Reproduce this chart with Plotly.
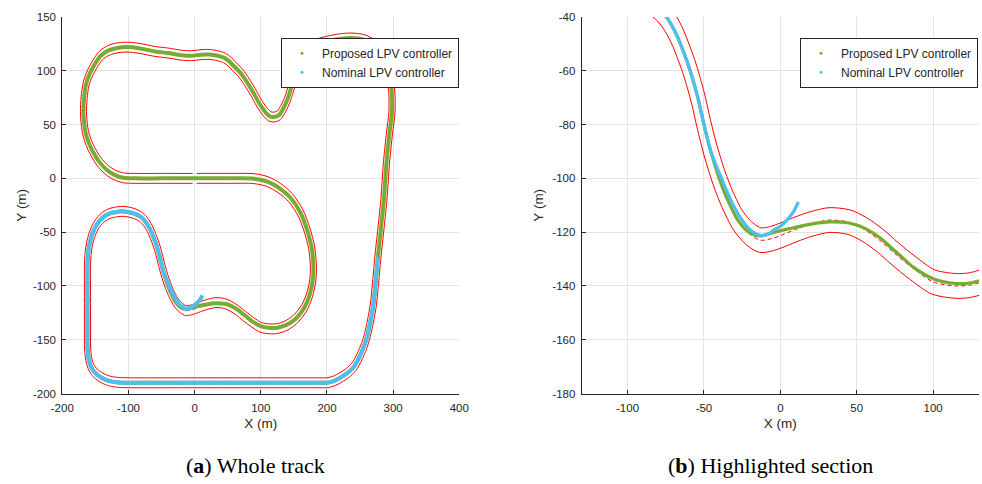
import numpy as np
import plotly.graph_objects as go

# ---------------- data ----------------
# reference centre line of the track (m), in driving order, starting just west of the start line
NW_X = [-3, -50, -90, -108, -122, -133, -145, -153, -160, -165, -167.5, -168, -167, -164, -158, -150, -142, -130, -115, -102]
NW_Y = [0, 0, 0, 0.5, 3.5, 8, 16, 24, 33, 43, 55, 62, 75, 88, 98, 107, 114, 119, 121.5, 122]

NORTH_X = [-85, -60, -40, -20, -5, 10, 22, 35, 45, 53, 59, 64, 70, 79, 88, 97, 107, 114, 120, 127, 134, 140, 145, 150, 155]
NORTH_Y = [121, 118, 116.5, 114.5, 114, 115, 115.2, 114, 112, 108.5, 104.5, 101.5, 97.5, 89.5, 80.5, 70.5, 61.5, 57.5, 57,
           58.5, 65, 73, 82.5, 91, 100]

EAST_X = [161, 168, 177, 188, 200, 220, 236, 256, 270, 282, 291, 295.5, 298.3, 298, 294.5, 290, 286, 281, 277, 273, 270,
          266, 261, 256, 249, 241, 231, 221, 210, 200]
EAST_Y = [110, 117.5, 122.5, 125.5, 127.5, 129.8, 130.5, 129, 124.5, 116, 104, 92, 77, 60, 42, 15, -20, -50, -73, -100, -118,
          -132, -146, -156, -166, -175, -181, -185, -188.5, -190]

SOUTH_X = [185, 100, 0, -100, -115, -128, -140, -150, -156, -160, -161.8, -162, -162, -162, -161, -158.5, -154, -147.5, -139,
           -129, -118, -107, -94, -82.5]
SOUTH_Y = [-190, -190, -190, -190, -189.7, -188.5, -185.5, -181, -176, -168, -158, -145, -100, -82, -70, -60, -50.5, -42.5,
           -36.5, -32.8, -31.2, -30.7, -32.2, -35.3]

HIGHLIGHT_X = [-74.5, -68, -63, -59, -54, -50, -45.5, -40, -34.5, -27.5, -20, -13, -5, 0, 10, 20, 32, 45, 55, 65, 75, 87,
               100, 115, 125, 138]
HIGHLIGHT_Y = [-40, -46.5, -53.5, -60, -70, -80, -90, -100, -108, -115.8, -120.7, -123, -122.3, -121.3, -119, -117, -115.5,
               -116.3, -119, -123, -128, -133.5, -138.5, -140, -139.6, -137]

INNER_X = [152, 165, 174, 178.5, 179.5, 177, 170, 160, 145, 128, 110, 90, 50, 3]
INNER_Y = [-131, -121, -108, -95, -82, -65, -48, -32, -18, -9, -3, -0.3, 0, 0]

TRACK_HALF_WIDTH = 4.6

# proposed LPV controller: deviates from the centre line in the highlighted section
PROP_SEC_X = [-27.5, -20, -13, -7.5, 0, 6, 20, 32, 45, 55, 65, 72, 80, 87, 100, 115, 125, 138]
PROP_SEC_Y = [-115.8, -120.3, -121.4, -120.6, -119.5, -118.7, -117, -116.2, -116.6, -118.5, -122, -125.5,
              -129.5, -133, -137.3, -139.1, -138.8, -136.5]

# nominal LPV controller: recorded from the east side, leaves the track after the hairpin
NOM_SEC_X = [-38.5, -32.5, -26, -19.5, -13, -8, -4.6, 0, 4.2, 8.5, 11.8]
NOM_SEC_Y = [-100, -108, -114.8, -119.3, -121.2, -120.8, -119.3, -117.8, -115.6, -112.5, -108.8]

X_TICKS_A = [-200, -100, 0, 100, 200, 300, 400]
Y_TICKS_A = [-200, -150, -100, -50, 0, 50, 100, 150]
X_TICKS_B = [-100, -50, 0, 50, 100]
Y_TICKS_B = [-180, -160, -140, -120, -100, -80, -60, -40]

# ---------------- derived series ----------------
CENTER_X = NW_X + NORTH_X + EAST_X + SOUTH_X + HIGHLIGHT_X + INNER_X
CENTER_Y = NW_Y + NORTH_Y + EAST_Y + SOUTH_Y + HIGHLIGHT_Y + INNER_Y


def lab(v):
    return [str(t) for t in v]


pts = list(zip(CENTER_X, CENTER_Y))


def idx(p):
    return pts.index(p)


PROP_X = CENTER_X[:idx((-27.5, -115.8))] + PROP_SEC_X + CENTER_X[idx((152, -131)):] + [CENTER_X[0]]
PROP_Y = CENTER_Y[:idx((-27.5, -115.8))] + PROP_SEC_Y + CENTER_Y[idx((152, -131)):] + [CENTER_Y[0]]
NOM_X = CENTER_X[idx((277, -73)):idx((-45.5, -90)) + 1] + NOM_SEC_X
NOM_Y = CENTER_Y[idx((277, -73)):idx((-45.5, -90)) + 1] + NOM_SEC_Y

# track edges: offset of the centre line along its normal
cx = np.array(CENTER_X, float)
cy = np.array(CENTER_Y, float)
tx = np.gradient(cx)
ty = np.gradient(cy)
nrm = np.hypot(tx, ty)
nx, ny = -ty / nrm, tx / nrm
LEFT_X, LEFT_Y = cx + TRACK_HALF_WIDTH * nx, cy + TRACK_HALF_WIDTH * ny
RIGHT_X, RIGHT_Y = cx - TRACK_HALF_WIDTH * nx, cy - TRACK_HALF_WIDTH * ny

RED = "#FF0000"
GREEN = "#77AC30"
BLUE = "#4DBEEE"
INK = "#262626"
GRID = "#E3E3E3"

fig = go.Figure()
for k, (xa, ya, lw) in enumerate([("x", "y", 4), ("x2", "y2", 3.2)]):
    common = dict(xaxis=xa, yaxis=ya, showlegend=False, hoverinfo="skip", mode="lines")
    sp = dict(shape="spline", smoothing=0.8)
    fig.add_trace(go.Scatter(x=LEFT_X, y=LEFT_Y, line=dict(color=RED, width=1, **sp), **common))
    fig.add_trace(go.Scatter(x=RIGHT_X, y=RIGHT_Y, line=dict(color=RED, width=1, **sp), **common))
    fig.add_trace(go.Scatter(x=CENTER_X, y=CENTER_Y, line=dict(color=RED, width=1, dash="4px,3px", **sp), **common))
    fig.add_trace(go.Scatter(x=PROP_X, y=PROP_Y, line=dict(color=GREEN, width=lw, **sp), **common))
    fig.add_trace(go.Scatter(x=NOM_X, y=NOM_Y, line=dict(color=BLUE, width=lw, **sp), **common))
    leg = "legend" if k == 0 else "legend2"
    fig.add_trace(go.Scatter(x=[None], y=[None], mode="markers", xaxis=xa, yaxis=ya, legend=leg,
                             marker=dict(color=GREEN, size=3), name="Proposed LPV controller"))
    fig.add_trace(go.Scatter(x=[None], y=[None], mode="markers", xaxis=xa, yaxis=ya, legend=leg,
                             marker=dict(color=BLUE, size=3), name="Nominal LPV controller"))

axis_common = dict(showgrid=True, gridcolor=GRID, gridwidth=1, zeroline=False, showline=True,
                   linecolor=INK, linewidth=1, ticks="inside", ticklen=4, tickcolor=INK,
                   tickfont=dict(family="Liberation Sans, Arial", size=11.5, color=INK),
                   title_font=dict(family="Liberation Sans, Arial", size=13.5, color=INK),
                   automargin=False, mirror=False, fixedrange=True)

ydom = [1 - 393.5 / 484, 1 - 17 / 484]
fig.update_layout(
    width=982, height=484,
    margin=dict(l=0, r=0, t=0, b=0),
    paper_bgcolor="white", plot_bgcolor="white",
    xaxis=dict(domain=[62.3 / 982, 459.3 / 982], range=[-200, 400], anchor="y",
               tickvals=X_TICKS_A, ticktext=lab(X_TICKS_A), title=dict(text="X (m)", standoff=5),
               ticklabelstandoff=4, **axis_common),
    yaxis=dict(domain=ydom, range=[-200, 150], anchor="x",
               tickvals=Y_TICKS_A, ticktext=lab(Y_TICKS_A), title=dict(text="Y (m)", standoff=3),
               ticklabelstandoff=3, **axis_common),
    xaxis2=dict(domain=[581.7 / 982, 979 / 982], range=[-130, 130], anchor="y2",
                tickvals=X_TICKS_B, ticktext=lab(X_TICKS_B), title=dict(text="X (m)", standoff=5),
                ticklabelstandoff=4, **axis_common),
    yaxis2=dict(domain=ydom, range=[-180, -40], anchor="x2",
                tickvals=Y_TICKS_B, ticktext=lab(Y_TICKS_B), title=dict(text="Y (m)", standoff=5),
                ticklabelstandoff=3, **axis_common),
    legend=dict(x=281 / 982, y=1 - 37.7 / 484, xanchor="left", yanchor="top", bgcolor="white",
                bordercolor=INK, borderwidth=1, itemwidth=30,
                font=dict(family="Liberation Sans, Arial", size=12, color=INK)),
    legend2=dict(x=800 / 982, y=1 - 37.7 / 484, xanchor="left", yanchor="top", bgcolor="white",
                 bordercolor=INK, borderwidth=1, itemwidth=30,
                 font=dict(family="Liberation Sans, Arial", size=12, color=INK)),
    annotations=[
        dict(text="(<b>a</b>) Whole track", xref="paper", yref="paper", x=256 / 982, y=1 - 465 / 484,
             xanchor="center", yanchor="middle", showarrow=False,
             font=dict(family="Liberation Serif, DejaVu Serif", size=22, color="black")),
        dict(text="(<b>b</b>) Highlighted section", xref="paper", yref="paper", x=770 / 982, y=1 - 465 / 484,
             xanchor="center", yanchor="middle", showarrow=False,
             font=dict(family="Liberation Serif, DejaVu Serif", size=22, color="black")),
    ],
)

fig.write_html("out.html")
